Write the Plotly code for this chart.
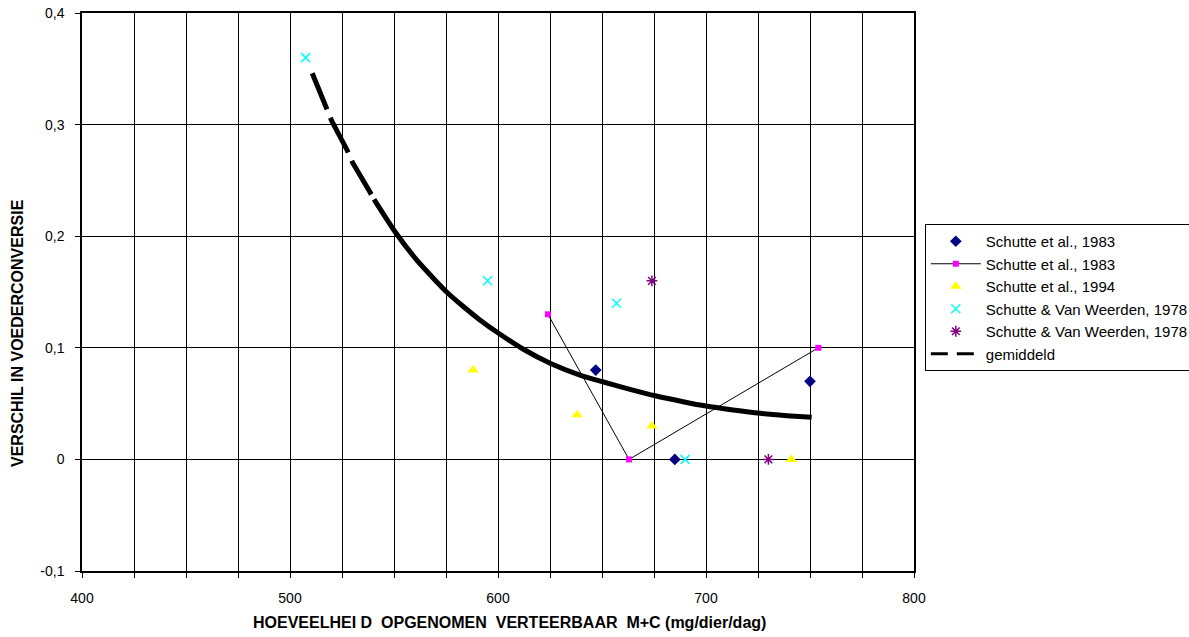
import plotly.graph_objects as go

# --- data ---
navy_x = [647, 685, 750]
navy_y = [0.08, 0.0, 0.07]

mag_x = [624, 663, 754]
mag_y = [0.13, 0.0, 0.10]

yel_x = [588, 638, 674, 741]
yel_y = [0.08, 0.04, 0.03, 0.0]

cyan_x = [507.5, 595, 657, 690]
cyan_y = [0.36, 0.16, 0.14, 0.0]

pur_x = [674, 730]
pur_y = [0.16, 0.0]

mean_dash_x = [510.7, 516.8, 520.0, 527.6, 530.1, 538.5, 540.4]
mean_dash_y = [0.346, 0.3176, 0.3035, 0.2766, 0.2659, 0.2393, 0.233]
mean_solid_x = [540.4, 550.5, 560.9, 568.9, 575.3, 583.3, 591.3, 600.3, 612.2, 625.3,
                639.4, 650.3, 663.5, 675.6, 689.0, 700.0, 713.0, 726.0, 738.8, 750.8]
mean_solid_y = [0.233, 0.204, 0.1787, 0.1623, 0.150, 0.137, 0.125, 0.113, 0.0987, 0.086,
                0.0756, 0.0696, 0.0628, 0.057, 0.0517, 0.0478, 0.0443, 0.0413, 0.0392, 0.0377]

x_ticks = list(range(400, 801, 25))
x_labels = [str(v) if v % 100 == 0 else "" for v in x_ticks]
y_ticks = [-0.1, 0, 0.1, 0.2, 0.3, 0.4]
y_labels = ["-0,1", "0", "0,1", "0,2", "0,3", "0,4"]

FONT = "Liberation Sans, Arial, sans-serif"
NARROW = "Liberation Sans Narrow, Arial Narrow, Liberation Sans, Arial, sans-serif"
NB = "\u00a0"

fig = go.Figure()

fig.add_trace(go.Scatter(x=navy_x, y=navy_y, mode="markers", name="Schutte et al., 1983",
                         marker=dict(symbol="diamond", size=9, color="#000080")))
fig.add_trace(go.Scatter(x=mag_x, y=mag_y, mode="lines+markers", name="Schutte et al., 1983",
                         line=dict(color="black", width=1),
                         marker=dict(symbol="square", size=6, color="#FF00FF")))
fig.add_trace(go.Scatter(x=yel_x, y=yel_y, mode="markers", name="Schutte et al., 1994",
                         marker=dict(symbol="triangle-up", size=10, color="#FFFF00")))
fig.add_trace(go.Scatter(x=cyan_x, y=cyan_y, mode="markers", name="Schutte & Van Weerden, 1978",
                         marker=dict(symbol="x-thin-open", size=9, color="#00FFFF",
                                     line=dict(width=1.5, color="#00FFFF"))))
fig.add_trace(go.Scatter(x=pur_x, y=pur_y, mode="markers", name="Schutte & Van Weerden, 1978",
                         marker=dict(symbol="asterisk-open", size=9, color="#800080",
                                     line=dict(width=1.5, color="#800080"))))
# legend-only entry for the mean curve (shows a short two-dash sample)
fig.add_trace(go.Scatter(x=[None], y=[None], mode="lines", name="gemiddeld",
                         line=dict(color="black", width=3, dash="17px,9px")))
fig.add_trace(go.Scatter(x=mean_dash_x, y=mean_dash_y, mode="lines", showlegend=False,
                         line=dict(color="black", width=5, dash="39px,9px")))
fig.add_trace(go.Scatter(x=mean_solid_x, y=mean_solid_y, mode="lines", showlegend=False,
                         line=dict(color="black", width=5, shape="spline", smoothing=0.6)))

xtitle = ("HOEVEELHEI" + NB + "D" + NB + NB + "OPGENOMEN" + NB + NB + "VERTEERBAAR" + NB + NB
          + "M+C" + NB + "(mg/dier/dag)")

fig.update_layout(
    width=1189, height=637,
    margin=dict(l=82, r=275, t=13, b=66, autoexpand=False),
    paper_bgcolor="white", plot_bgcolor="white",
    font=dict(family=FONT, size=12, color="black"),
    legend=dict(x=1.013, y=(571 - 224) / 558, xanchor="left", yanchor="top",
                bordercolor="black", borderwidth=1, bgcolor="white",
                font=dict(family=FONT, size=15, color="black"),
                itemwidth=50, tracegroupgap=0),
    xaxis=dict(range=[400, 800], tickvals=x_ticks, ticktext=x_labels, automargin=False,
               showgrid=True, gridcolor="black", gridwidth=1,
               showline=True, linecolor="black", linewidth=1.5, mirror=True,
               ticks="outside", ticklen=5, tickcolor="black", zeroline=False,
               ticklabelstandoff=8,
               tickfont=dict(family=NARROW, size=14)),
    yaxis=dict(range=[-0.1, 0.4], tickvals=y_ticks, ticktext=y_labels, automargin=False,
               showgrid=True, gridcolor="black", gridwidth=1,
               showline=True, linecolor="black", linewidth=1.5, mirror=True,
               ticks="outside", ticklen=5, tickcolor="black", zeroline=False,
               ticklabelstandoff=8,
               tickfont=dict(family=FONT, size=14)),
    annotations=[
        dict(text="<b>" + xtitle + "</b>", xref="paper", yref="paper",
             x=(510 - 82) / 832, y=-(622 - 571) / 558, xanchor="center", yanchor="middle",
             showarrow=False, font=dict(family=NARROW, size=16, color="black")),
        dict(text="<b>VERSCHIL IN VOEDERCONVERSIE</b>", xref="paper", yref="paper",
             x=-(82 - 17) / 832, y=(571 - 333) / 558, xanchor="center", yanchor="middle",
             textangle=-90, showarrow=False, font=dict(family=NARROW, size=16, color="black")),
    ],
)

fig.write_html("out.html")
